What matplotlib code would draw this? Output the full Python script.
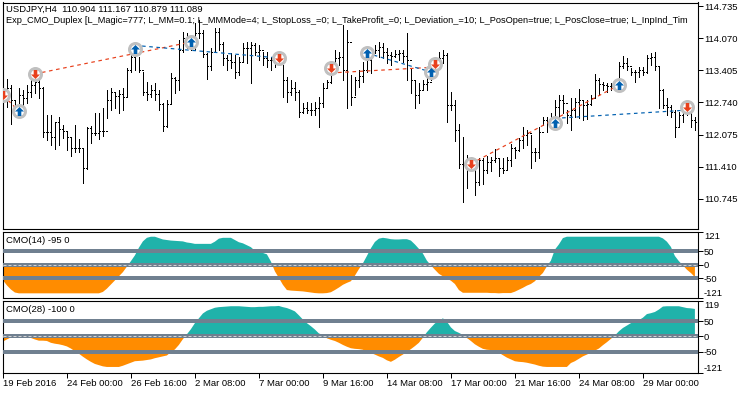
import numpy as np
import matplotlib
matplotlib.use("Agg")
import matplotlib.pyplot as plt
from matplotlib.path import Path

plt.rcParams['font.family'] = ['Liberation Sans', 'DejaVu Sans']
plt.rcParams['font.size'] = 6.8

# USDJPY H4 bars
highs = [113.10,113.22,113.10,112.79,113.04,112.99,113.10,113.20,113.25,113.20,
         113.06,112.48,112.48,112.33,112.44,112.27,112.15,112.02,112.27,111.98,
         111.80,112.23,112.25,112.52,112.52,112.62,112.99,113.04,112.93,112.99,
         113.04,113.45,113.76,113.83,113.68,113.37,113.16,113.10,113.14,112.99,
         112.73,112.79,113.35,113.27,114.03,114.20,114.18,114.09,114.38,114.45,
         114.24,113.76,113.87,114.28,114.28,113.99,113.72,113.76,113.72,113.68,
         113.97,113.99,113.99,113.97,113.93,113.78,113.78,113.68,113.68,113.68,
         113.51,113.27,113.20,113.16,112.99,112.73,112.75,112.73,112.75,112.85,
         113.14,113.20,113.51,113.83,113.78,114.34,114.24,113.31,113.27,113.41,
         113.58,113.83,113.83,113.93,113.99,113.97,113.87,113.78,113.83,113.83,
         113.83,114.18,113.45,113.20,113.14,113.20,113.27,113.56,113.68,113.78,
         113.83,113.76,112.96,112.79,112.29,112.02,111.65,111.61,111.34,111.59,
         111.59,111.63,111.61,111.78,111.57,111.59,111.61,111.88,111.82,112.00,
         112.23,112.17,112.07,111.80,112.23,112.44,112.44,112.52,112.79,112.89,
         112.89,112.58,112.83,112.83,113.02,112.79,112.79,112.89,113.33,113.25,
         113.16,113.14,113.14,113.20,113.58,113.70,113.66,113.45,113.41,113.47,
         113.47,113.72,113.76,113.78,113.47,113.02,112.83,112.69,112.58,112.54,
         112.69,112.65,112.54,112.44]
lows = [112.75,112.65,112.29,112.58,112.73,112.67,112.73,112.85,112.93,112.83,
        112.02,111.96,111.86,111.78,111.86,112.00,111.76,111.63,111.71,111.71,
        111.07,111.36,111.90,112.07,111.98,112.05,112.42,112.58,112.62,112.52,
        112.58,112.85,113.37,113.41,113.37,112.89,112.79,112.85,112.79,112.58,
        112.15,112.23,112.73,112.93,112.99,113.78,113.87,113.83,113.83,114.07,
        113.68,113.22,113.41,113.78,113.83,113.51,113.41,113.45,113.25,113.31,
        113.58,113.56,113.14,113.72,113.62,113.51,113.47,113.41,113.47,113.56,
        112.85,112.75,112.89,112.79,112.44,112.52,112.52,112.48,112.48,112.23,
        112.65,113.04,113.14,113.35,113.51,113.20,112.62,112.69,112.89,113.06,
        113.16,113.37,113.35,113.76,113.68,113.66,113.56,113.51,113.68,113.62,
        113.58,113.20,112.93,112.62,112.73,112.99,112.99,113.20,113.41,113.45,
        113.56,112.33,112.58,111.94,111.38,110.68,110.97,111.34,110.82,111.03,
        111.05,111.28,111.32,111.51,111.22,111.28,111.34,111.42,111.59,111.73,
        111.80,111.86,111.38,111.53,111.59,112.27,112.13,112.21,112.31,112.44,
        112.52,112.31,112.17,112.44,112.42,112.38,112.40,112.69,112.85,112.89,
        112.99,112.96,112.99,112.99,113.16,113.45,113.41,113.31,113.16,113.27,
        113.31,113.35,113.51,113.41,112.62,112.62,112.48,112.44,112.02,112.23,
        112.33,112.48,112.23,112.17]
closes = [112.93,113.04,112.79,112.69,112.89,112.83,112.96,113.10,113.16,113.04,
          112.13,112.13,112.02,112.33,112.19,112.15,112.02,111.80,111.80,111.80,
          111.38,112.21,112.11,112.11,112.15,112.15,112.79,112.96,112.87,112.91,
          112.85,113.41,113.68,113.78,113.41,112.96,112.91,112.99,112.91,112.71,
          112.25,112.71,113.25,113.20,113.83,114.07,113.99,113.99,114.18,114.18,
          113.74,113.49,113.78,114.20,113.95,113.66,113.62,113.58,113.37,113.58,
          113.87,113.87,113.93,113.78,113.83,113.66,113.62,113.62,113.58,113.62,
          113.20,112.96,113.04,112.96,112.54,112.62,112.58,112.58,112.62,112.73,
          113.04,113.16,113.45,113.66,113.68,113.41,113.99,112.85,113.20,113.29,
          113.41,113.62,113.72,113.83,113.89,113.78,113.72,113.70,113.74,113.76,
          113.70,113.62,113.20,112.89,112.99,113.12,113.16,113.49,113.58,113.66,
          113.72,112.69,112.69,112.17,111.47,111.44,111.44,111.44,111.09,111.55,
          111.34,111.51,111.55,111.59,111.38,111.34,111.55,111.80,111.76,111.96,
          112.07,112.11,111.71,111.71,112.13,112.38,112.33,112.42,112.65,112.79,
          112.73,112.48,112.58,112.75,112.79,112.69,112.71,112.83,113.20,113.12,
          113.10,113.08,113.08,113.14,113.49,113.56,113.49,113.37,113.37,113.41,
          113.37,113.66,113.68,113.49,112.99,112.69,112.65,112.54,112.23,112.48,
          112.54,112.54,112.38,112.33]
opens = [112.85,112.93,113.04,112.79,112.69,112.89,112.83,112.96,113.10,113.16,
         113.04,112.13,112.13,112.02,112.33,112.19,112.15,112.02,111.80,111.80,
         111.80,111.38,112.21,112.11,112.11,112.15,112.15,112.79,112.96,112.87,
         112.91,112.85,113.41,113.68,113.78,113.41,112.96,112.91,112.99,112.91,
         112.71,112.25,112.71,113.25,113.20,113.83,114.07,113.99,113.99,114.18,
         114.18,113.74,113.49,113.78,114.20,113.95,113.66,113.62,113.58,113.37,
         113.58,113.87,113.87,113.93,113.78,113.83,113.66,113.62,113.62,113.58,
         113.62,113.20,112.96,113.04,112.96,112.54,112.62,112.58,112.58,112.62,
         112.73,113.04,113.16,113.45,113.66,113.68,113.41,113.99,112.85,113.20,
         113.29,113.41,113.62,113.72,113.83,113.89,113.78,113.72,113.70,113.74,
         113.76,113.70,113.62,113.20,112.89,112.99,113.12,113.16,113.49,113.58,
         113.66,113.72,112.69,112.69,112.17,111.47,111.44,111.44,111.44,111.09,
         111.55,111.34,111.51,111.55,111.59,111.38,111.34,111.55,111.80,111.76,
         111.96,112.07,112.11,111.71,111.71,112.13,112.38,112.33,112.42,112.65,
         112.79,112.73,112.48,112.58,112.75,112.79,112.69,112.71,112.83,113.20,
         113.12,113.10,113.08,113.08,113.14,113.49,113.56,113.49,113.37,113.37,
         113.41,113.37,113.66,113.68,113.49,112.99,112.69,112.65,112.54,112.23,
         112.48,112.54,112.54,112.38]

# CMO histograms, one value per bar
cmo14 = [-56,-75,-90,-101,-104,-104,-104,-104,-104,-104,
         -104,-104,-104,-104,-104,-104,-104,-104,-104,-104,
         -104,-104,-104,-104,-104,-99,-87,-72,-57,-42,
         -27,-7,13,34,62,85,98,102,102,97,
         92,90,88,87,86,85,81,79,76,76,
         76,76,76,84,95,98,98,98,90,82,
         78,71,64,51,46,43,38,12,-24,-48,
         -73,-92,-94,-95,-96,-97,-99,-101,-103,-104,
         -104,-103,-100,-92,-83,-73,-66,-60,-40,-16,
         5,32,60,83,95,98,96,93,92,92,
         93,93,88,74,58,41,15,-2,-18,-33,
         -42,-50,-58,-70,-92,-102,-102,-102,-102,-102,
         -102,-102,-103,-103,-104,-103,-103,-103,-98,-91,
         -84,-76,-70,-60,-44,-30,-6,15,55,74,
         97,102,102,102,102,102,102,102,102,102,
         102,102,102,102,102,102,102,102,102,102,
         102,102,102,102,102,96,84,65,32,13,
         -2,-18,-30,-45]
cmo28 = [-17,-10,-3,-4,-4,-4,-4,-5,-10,-14,
         -14,-15,-21,-24,-26,-29,-33,-40,-49,-57,
         -67,-76,-84,-91,-95,-99,-101,-101,-101,-101,
         -97,-92,-87,-82,-81,-80,-78,-76,-72,-69,
         -66,-63,-52,-43,-28,-9,7,24,44,60,
         76,85,90,95,97,98,99,100,100,100,
         99,98,97,97,98,98,99,100,100,101,
         97,94,89,83,70,56,44,34,23,10,
         5,-6,-11,-15,-21,-28,-34,-39,-41,-42,
         -44,-50,-55,-60,-66,-71,-79,-84,-77,-68,
         -60,-51,-42,-32,-21,-4,14,29,43,51,
         60,49,30,18,12,5,-5,-15,-26,-34,
         -41,-44,-45,-47,-54,-62,-70,-76,-82,-84,
         -85,-87,-90,-93,-97,-100,-101,-101,-101,-101,
         -101,-101,-88,-82,-74,-66,-60,-54,-47,-40,
         -29,-19,-8,3,17,28,36,44,49,54,
         62,74,77,81,89,99,100,100,100,100,
         97,94,93,91]

# trades
buy_bars = [4, 33, 47, 91, 107, 138, 154]
buy_prices = [112.56, 113.85, 113.99, 113.76, 113.37, 112.31, 113.10]
sell_bars = [0, 8, 69, 82, 108, 117, 171]
sell_prices = [112.89, 113.33, 113.66, 113.45, 113.53, 111.47, 112.65]

red_from_bars = [0, 8, 82, 117]
red_from_prices = [112.89, 113.33, 113.35, 111.47]
red_to_bars = [4, 47, 108, 154]
red_to_prices = [112.56, 113.99, 113.47, 113.10]
blue_from_bars = [33, 91, 138]
blue_from_prices = [113.92, 113.76, 112.41]
blue_to_bars = [69, 107, 171]
blue_to_prices = [113.66, 113.37, 112.58]

price_ticks = [114.735, 114.070, 113.405, 112.740, 112.075, 111.410, 110.745]
time_ticks = [0, 16, 32, 48, 64, 80, 96, 112, 128, 144, 160]
time_labels = ['19 Feb 2016', '24 Feb 00:00', '26 Feb 16:00', '2 Mar 08:00', '7 Mar 00:00',
               '9 Mar 16:00', '14 Mar 08:00', '17 Mar 00:00', '21 Mar 16:00', '24 Mar 08:00',
               '29 Mar 00:00']
levels = [50, 0, -50]

title1 = 'USDJPY,H4  110.904 111.167 110.879 111.089'
title2 = ('Exp_CMO_Duplex [L_Magic=777; L_MM=0.1; L_MMMode=4; L_StopLoss_=0; L_TakeProfit_=0; '
          'L_Deviation_=10; L_PosOpen=true; L_PosClose=true; L_InpInd_Tim')

W, H = 750, 394
PX = 72 / 100  # one pixel in points
TEAL = '#20B2AA'
ORANGE = '#FF8C00'
SLATE = '#708090'
RED = '#E8401C'
BLUE = '#0060B0'


def make_axes(top, bottom):
    ax = fig.add_axes([2.5 / W, 1 - bottom / H, 695 / W, (bottom - top) / H])
    ax.set_xlim(-0.1, 173.65)
    for s in ax.spines.values():
        s.set_linewidth(1.1 * PX)
    ax.yaxis.tick_right()
    ax.tick_params(axis='y', length=5 * PX, width=PX, pad=1, labelsize=6.8)
    ax.set_xticks([])
    return ax


def arrow_marker(up):
    d = 1 if up else -1
    verts = [(0, d), (1, 0), (0.4, 0), (0.4, -d), (-0.4, -d), (-0.4, 0), (-1, 0), (0, d)]
    return Path(verts, closed=True)


def draw_cmo(ax, values, name, ylim, top_label, bottom_label):
    x = np.arange(len(values))
    v = np.array(values, dtype=float)
    ax.fill_between(x, 0, v, where=v >= 0, interpolate=True, color=TEAL, lw=0)
    ax.fill_between(x, 0, v, where=v <= 0, interpolate=True, color=ORANGE, lw=0)
    for lev in levels:
        ax.axhline(lev, color=SLATE, lw=4 * PX, zorder=3)
    ax.axhline(0, color='#D3D3D3', lw=PX, ls=(0, (3, 2)), zorder=4)
    ax.set_ylim(*ylim)
    ax.set_yticks([ylim[1], 50, 0, -50, ylim[0]])
    ax.set_yticklabels([top_label, '50', '0', '-50', bottom_label])
    labels = ax.get_yticklabels()
    labels[0].set_va('top')
    labels[-1].set_va('bottom')
    ax.annotate(name, xy=(0, 1), xycoords='axes fraction', xytext=(4 * PX, -9 * PX),
                textcoords='offset points', va='center', ha='left', zorder=6)


fig = plt.figure(figsize=(W / 100, H / 100), dpi=100, facecolor='white')

# price window
ax = make_axes(2.5, 229)
bars = np.arange(len(highs))
ax.vlines(bars, lows, highs, color='black', lw=PX, antialiased=False, zorder=2)
ax.hlines(opens, bars - 0.25, bars, color='black', lw=PX, antialiased=False, zorder=2)
ax.hlines(closes, bars, bars + 0.25, color='black', lw=PX, antialiased=False, zorder=2)
ax.set_ylim(110.12, 114.808)
ax.set_yticks(price_ticks)
ax.set_yticklabels(['%.3f' % p for p in price_ticks])

for i in range(len(red_from_bars)):
    ax.plot([red_from_bars[i], red_to_bars[i]], [red_from_prices[i], red_to_prices[i]],
            color=RED, lw=1.2 * PX, ls=(0, (3, 3)), zorder=3)
for i in range(len(blue_from_bars)):
    ax.plot([blue_from_bars[i], blue_to_bars[i]], [blue_from_prices[i], blue_to_prices[i]],
            color=BLUE, lw=1.2 * PX, ls=(0, (3, 3)), zorder=3)

ax.plot(buy_bars, buy_prices, ls='', marker='o', ms=12 * PX, mfc='white', mec='#C0C0C0',
        mew=3 * PX, zorder=4)
ax.plot(sell_bars, sell_prices, ls='', marker='o', ms=12 * PX, mfc='white', mec='#C0C0C0',
        mew=3 * PX, zorder=4)
ax.plot(buy_bars, buy_prices, ls='', marker=arrow_marker(True), ms=9 * PX, color=BLUE, mew=0, zorder=5)
ax.plot(sell_bars, sell_prices, ls='', marker=arrow_marker(False), ms=9 * PX, color=RED, mew=0, zorder=5)

ax.annotate(title1, xy=(0, 1), xycoords='axes fraction', xytext=(4 * PX, -7 * PX),
            textcoords='offset points', va='center', ha='left', zorder=6)
ax.text(4 / 695, 1 - 18 / 226.5, title2, transform=ax.transAxes, va='center', ha='left', zorder=6,
        fontsize=6.65)

# indicator windows
ax14 = make_axes(231.5, 298)
draw_cmo(ax14, cmo14, 'CMO(14) -95 0', (-121, 121), '121', '-121')
ax28 = make_axes(300.5, 373)
draw_cmo(ax28, cmo28, 'CMO(28) -100 0', (-121, 119), '119', '-121')

ax28.set_xticks(time_ticks)
ax28.set_xticklabels(time_labels, ha='left')
ax28.tick_params(axis='x', length=5 * PX, width=PX, pad=1, labelsize=6.8)

fig.savefig('out.png', dpi=100, facecolor='white')
